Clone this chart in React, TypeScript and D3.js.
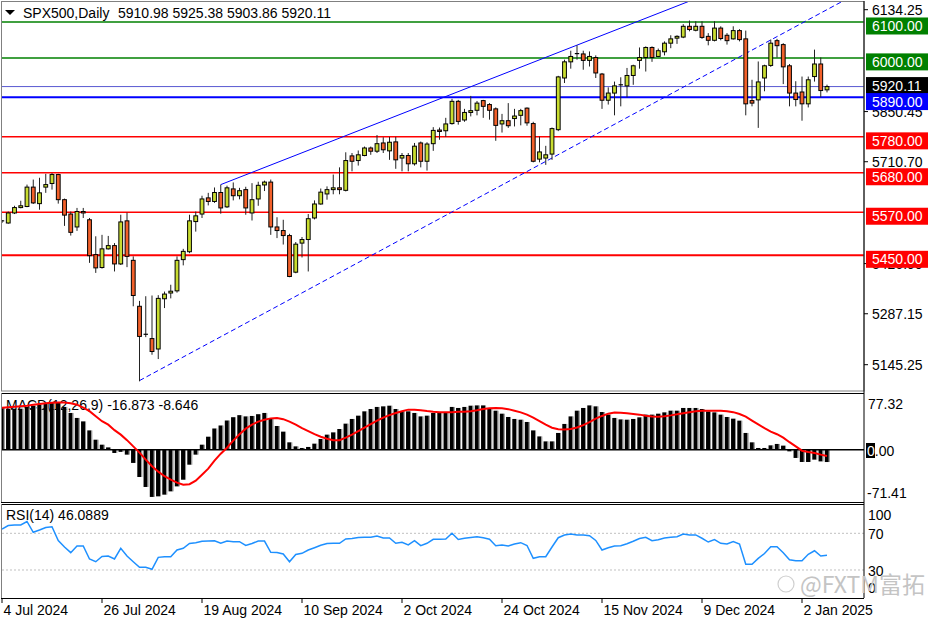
import React from 'react';
import * as d3 from 'd3';

// daily OHLC, SPX500 CFD, 4 Jul 2024 .. 8 Jan 2025
const opens = [
  5544, 5540, 5568, 5583, 5586, 5640, 5594, 5640, 5650, 5675,
  5605, 5565, 5529, 5572, 5549, 5452, 5416, 5468, 5477, 5426,
  5546, 5436, 5308, 5230, 5218, 5189, 5329, 5345, 5351, 5438,
  5460, 5544, 5565, 5610, 5600, 5625, 5585, 5635, 5616, 5633,
  5568, 5607, 5646, 5654, 5529, 5519, 5505, 5403, 5484, 5494,
  5554, 5593, 5621, 5633, 5638, 5631, 5727, 5714, 5728, 5749,
  5740, 5763, 5741, 5766, 5721, 5728, 5705, 5763, 5712, 5761,
  5799, 5797, 5817, 5879, 5827, 5848, 5854, 5881, 5870, 5858,
  5816, 5825, 5831, 5840, 5860, 5817, 5718, 5721, 5732, 5800,
  5944, 5989, 6011, 6011, 5993, 6001, 5955, 5882, 5902, 5922,
  5922, 5951, 5993, 6001, 6029, 6004, 6017, 6041, 6055, 6058,
  6088, 6077, 6088, 6060, 6049, 6083, 6063, 6053, 6076, 6053,
  5881, 5883, 5944, 5979, 6048, 6037, 5978, 5902, 5905, 5872,
  5948, 5983, 5910.98,
];
const highs = [
  5548, 5572, 5588, 5602, 5647, 5661, 5666, 5677, 5679, 5677,
  5608, 5572, 5582, 5582, 5554, 5503, 5507, 5504, 5484, 5563,
  5569, 5447, 5323, 5336, 5338, 5339, 5349, 5368, 5447, 5468,
  5563, 5572, 5616, 5624, 5639, 5647, 5644, 5653, 5638, 5641,
  5651, 5655, 5658, 5661, 5556, 5549, 5510, 5487, 5501, 5565,
  5603, 5636, 5642, 5675, 5695, 5737, 5735, 5742, 5753, 5753,
  5785, 5779, 5780, 5780, 5735, 5735, 5763, 5767, 5765, 5807,
  5806, 5833, 5886, 5883, 5858, 5894, 5880, 5883, 5874, 5862,
  5844, 5874, 5858, 5858, 5862, 5822, 5781, 5755, 5806, 5950,
  5995, 6020, 6035, 6020, 6018, 6007, 5958, 5918, 5934, 5946,
  5972, 5981, 6029, 6032, 6032, 6026, 6046, 6063, 6063, 6094,
  6104, 6102, 6102, 6069, 6102, 6088, 6069, 6088, 6080, 6076,
  5939, 5990, 5981, 6051, 6053, 6041, 5983, 5935, 5948, 5948,
  6023, 6001, 5925.38,
];
const lows = [
  5540, 5538, 5565, 5581, 5584, 5593, 5577, 5624, 5633, 5594,
  5532, 5505, 5518, 5554, 5429, 5401, 5413, 5466, 5405, 5423,
  5417, 5308, 5099, 5222, 5173, 5161, 5303, 5330, 5346, 5422,
  5456, 5516, 5554, 5589, 5596, 5566, 5582, 5603, 5606, 5563,
  5547, 5588, 5629, 5507, 5498, 5480, 5389, 5400, 5444, 5405,
  5550, 5591, 5605, 5620, 5620, 5628, 5684, 5700, 5726, 5730,
  5735, 5735, 5716, 5691, 5684, 5684, 5700, 5695, 5686, 5741,
  5772, 5780, 5814, 5814, 5822, 5837, 5840, 5833, 5828, 5769,
  5792, 5805, 5809, 5812, 5811, 5709, 5709, 5702, 5716, 5796,
  5930, 5970, 5995, 5967, 5976, 5944, 5858, 5870, 5840, 5865,
  5890, 5925, 5970, 5962, 5989, 6002, 6007, 6027, 6039, 6055,
  6074, 6074, 6053, 6035, 6046, 6049, 6037, 6051, 6046, 5840,
  5865, 5805, 5907, 5975, 6001, 5927, 5865, 5865, 5825, 5862,
  5934, 5890, 5903.86,
];
const closes = [
  5546, 5568, 5583, 5588, 5640, 5596, 5624, 5647, 5675, 5605,
  5562, 5514, 5572, 5568, 5449, 5415, 5468, 5477, 5426, 5543,
  5447, 5338, 5224, 5228, 5182, 5330, 5342, 5350, 5436, 5461,
  5546, 5560, 5607, 5600, 5625, 5582, 5638, 5616, 5630, 5582,
  5605, 5645, 5654, 5529, 5519, 5505, 5391, 5481, 5494, 5552,
  5593, 5626, 5633, 5638, 5633, 5714, 5712, 5730, 5749, 5740,
  5761, 5744, 5765, 5716, 5728, 5705, 5754, 5712, 5760, 5798,
  5795, 5816, 5879, 5823, 5848, 5853, 5874, 5865, 5854, 5812,
  5825, 5811, 5838, 5853, 5819, 5712, 5738, 5730, 5803, 5947,
  5989, 6004, 6012, 5993, 6004, 5958, 5882, 5902, 5922, 5925,
  5951, 5978, 6001, 6029, 6001, 6020, 6041, 6053, 6060, 6088,
  6079, 6088, 6057, 6049, 6083, 6054, 6048, 6076, 6051, 5872,
  5874, 5933, 5978, 6041, 6034, 5975, 5902, 5884, 5872, 5939,
  5983, 5909, 5920.11,
];

// MACD(12,26,9): main (histogram) and signal
const macdMain = [
  56.9, 55.9, 55.9, 55.9, 58.3, 60.0, 61.4, 62.8, 63.7, 64.5,
  58.3, 50.1, 43.3, 38.6, 26.3, 13.6, 6.8, 3.1, -4.5, -3.0,
  -6.8, -18.1, -37.3, -50.9, -64.5, -63.7, -61.4, -56.9, -50.1, -41.0,
  -20.5, -6.8, 6.8, 17.7, 28.9, 33.0, 39.8, 44.3, 47.1, 45.4,
  46.0, 48.4, 50.1, 42.3, 32.3, 24.6, 10.0, 4.5, 2.3, 3.7,
  8.2, 14.6, 20.5, 23.6, 28.2, 35.5, 41.9, 46.4, 52.3, 55.5,
  58.3, 59.1, 60.0, 55.5, 52.3, 52.3, 50.1, 45.4, 46.4, 50.1,
  50.1, 50.1, 58.3, 56.9, 58.3, 60.0, 60.4, 60.4, 56.9, 53.2,
  49.1, 44.6, 41.9, 40.9, 37.8, 26.3, 18.1, 11.3, 11.3, 22.8,
  35.1, 45.4, 53.2, 56.9, 60.4, 59.1, 51.4, 47.8, 43.3, 41.3,
  40.9, 41.9, 44.1, 47.8, 47.8, 49.1, 50.9, 53.2, 53.2, 56.9,
  56.9, 56.9, 55.5, 52.3, 50.9, 47.8, 44.6, 42.3, 39.6, 22.8,
  10.0, 2.3, 2.3, 5.9, 7.8, 5.5, -2.3, -11.3, -16.8, -16.8,
  -13.6, -16.0, -16.873,
];
const macdSignal = [
  57.3, 58.0, 58.7, 59.4, 60.0, 61.4, 62.4, 63.4, 64.1, 64.5,
  64.5, 63.4, 61.4, 57.3, 52.5, 45.7, 38.9, 34.1, 26.6, 20.5,
  13.0, 4.5, -4.1, -13.6, -22.5, -30.0, -36.2, -40.9, -45.0, -47.8,
  -47.1, -42.3, -34.1, -25.9, -15.0, -5.5, 2.7, 12.3, 21.1, 28.7,
  34.1, 38.2, 40.9, 42.7, 43.3, 41.6, 38.2, 34.1, 29.3, 25.2,
  21.1, 17.7, 15.0, 13.0, 13.0, 16.4, 20.5, 25.2, 30.0, 34.8,
  39.6, 43.7, 47.1, 50.1, 52.5, 54.6, 54.6, 53.9, 52.8, 51.9,
  51.2, 50.9, 51.2, 51.6, 51.9, 52.5, 53.9, 55.5, 56.6, 56.9,
  56.4, 55.3, 53.2, 50.9, 47.8, 43.7, 38.9, 34.1, 30.0, 28.0,
  27.6, 28.2, 30.3, 33.4, 37.5, 42.3, 46.0, 49.1, 50.8, 50.5,
  49.8, 48.8, 47.8, 46.4, 45.3, 45.0, 45.7, 46.8, 48.2, 49.8,
  51.2, 52.3, 53.0, 53.2, 53.2, 53.0, 52.4, 51.2, 48.7, 45.0,
  39.6, 34.4, 29.3, 24.6, 21.1, 16.4, 10.2, 4.5, -1.4, -3.1,
  -4.5, -6.8, -8.646,
];

// RSI(14)
const rsiValues = [
  74.7, 78.5, 79.1, 79.1, 82.9, 71.1, 73.6, 76.3, 77.2, 62.2,
  55.1, 48.9, 56.2, 56.2, 42.0, 39.0, 44.7, 45.3, 42.0, 53.7,
  45.3, 39.0, 32.9, 32.9, 30.8, 43.8, 44.5, 44.5, 51.8, 53.7,
  58.9, 59.8, 61.3, 61.6, 61.9, 59.1, 61.6, 60.9, 60.9, 56.7,
  58.9, 61.6, 61.6, 49.3, 49.1, 47.4, 39.0, 46.9, 48.2, 51.8,
  54.3, 56.9, 58.9, 59.1, 59.1, 63.8, 64.3, 65.4, 65.6, 65.6,
  67.1, 64.9, 64.9, 59.1, 60.2, 57.3, 61.9, 56.5, 59.1, 63.5,
  63.5, 63.8, 70.0, 63.2, 64.6, 65.4, 66.3, 65.2, 63.5, 56.5,
  57.3, 56.2, 58.3, 59.8, 56.7, 42.7, 44.5, 44.5, 55.1, 65.2,
  68.2, 69.2, 68.2, 68.2, 67.4, 62.2, 51.8, 54.3, 56.2, 56.5,
  58.7, 61.3, 64.3, 65.6, 61.9, 63.0, 64.9, 65.6, 66.3, 69.2,
  68.2, 68.2, 64.6, 60.5, 63.2, 59.1, 58.3, 60.9, 58.3, 36.2,
  36.2, 42.7, 48.0, 55.4, 55.4, 48.9, 41.2, 40.1, 40.1, 47.1,
  51.0, 45.3, 46.0889,
];

const tickBars = [0, 16, 32, 48, 64, 80, 96, 112, 128];
const tickLabels = ['4 Jul 2024', '26 Jul 2024', '19 Aug 2024', '10 Sep 2024', '2 Oct 2024',
  '24 Oct 2024', '15 Nov 2024', '9 Dec 2024', '2 Jan 2025'];

// price scale labels (the ones fully hidden under level boxes are left out)
const priceTicks = [6134.25, 5850.45, 5710.70, 5426.90, 5287.15, 5145.25];
const greenLevels = [6100, 6000];
const redLevels = [5780, 5680, 5570, 5450];
const blueLevel = 5890;
const lastPrice = 5920.11;

// channel anchors: [bar index, price]
const upperTrend = [[35, 5647], [99.7, 6088]];
const lowerTrend = [[22, 5101], [98, 5815]];

const FONT = "'Liberation Sans', Arial, sans-serif";
const BULL = '#c8dc30';
const BEAR = '#f2602a';

const W = 936;
const H = 624;
const left = 2;
const right = 864;
const main = { top: 2, bottom: 391 };
const macdP = { top: 393, bottom: 502 };
const rsiP = { top: 504, bottom: 598 };

const x = d3.scaleLinear().domain([0, 132]).range([2, 827]);
const yPrice = d3.scaleLinear().domain([5145.25, 6134.25]).range([364.7, 9.7]);
const yMacd = d3.scaleLinear().domain([-71.41, 77.32]).range([502, 393]);
const yRsi = d3.scaleLinear().domain([0, 100]).range([597.5, 505.8]);

const ray = (a: number[], b: number[], toBar: number) => {
  const slope = (b[1] - a[1]) / (b[0] - a[0]);
  return [a, [toBar, a[1] + slope * (toBar - a[0])]];
};

const LevelBox = ({ y, fill, label }: { y: number; fill: string; label: string }) => (
  <g>
    <rect x={866} y={y} width={62} height={17} fill={fill} />
    <text x={872} y={y + 13.5} fill="#fff" fontSize={14} fontFamily={FONT}>{label}</text>
  </g>
);

export default function App() {
  const signalLine = d3.line<number>().x((_, i) => x(i)).y(v => yMacd(v));
  const rsiLine = d3.line<number>().x((_, i) => x(i)).y(v => yRsi(v));
  const trendLine = d3.line<number[]>().x(d => x(d[0])).y(d => yPrice(d[1]));

  const up = ray(upperTrend[0], upperTrend[1], 140);
  const lo = ray(lowerTrend[0], lowerTrend[1], 140);

  const blueTop = yPrice(blueLevel) - 4.3;

  return (
    <div style={{ position: 'absolute', left: 0, top: 0 }}>
      <svg width={W} height={H} style={{ display: 'block', background: '#fff' }} fontFamily={FONT}>
        <defs>
          <clipPath id="clipMain"><rect x={left} y={main.top} width={right - left} height={main.bottom - main.top} /></clipPath>
          <clipPath id="clipMacd"><rect x={left} y={macdP.top} width={right - left} height={macdP.bottom - macdP.top} /></clipPath>
          <clipPath id="clipRsi"><rect x={left} y={rsiP.top} width={right - left} height={rsiP.bottom - rsiP.top} /></clipPath>
        </defs>

        {/* ---- main panel ---- */}
        <g clipPath="url(#clipMain)">
          {redLevels.map((lv, i) => (
            <line key={lv} x1={left} x2={right} y1={yPrice(lv)} y2={yPrice(lv)}
              stroke="#ff0000" strokeWidth={i === redLevels.length - 1 ? 2 : 1.5} />
          ))}
          {greenLevels.map(lv => (
            <line key={lv} x1={left} x2={right} y1={yPrice(lv)} y2={yPrice(lv)} stroke="#008000" strokeWidth={1.5} />
          ))}
          <line x1={left} x2={right} y1={yPrice(blueLevel)} y2={yPrice(blueLevel)} stroke="#0000ff" strokeWidth={2} />
          <line x1={left} x2={right} y1={yPrice(lastPrice)} y2={yPrice(lastPrice)} stroke="#5a5ad2" strokeWidth={1} />

          <path d={trendLine(up) || ''} fill="none" stroke="#0000ff" strokeWidth={1} />
          <path d={trendLine(lo) || ''} fill="none" stroke="#0000ff" strokeWidth={1} strokeDasharray="5,3" />

          {closes.map((c, i) => {
            const o = opens[i];
            const cx = x(i);
            const top = yPrice(Math.max(o, c));
            const bot = yPrice(Math.min(o, c));
            const bull = c >= o;
            return (
              <g key={i}>
                <line x1={cx} x2={cx} y1={yPrice(highs[i])} y2={yPrice(lows[i])} stroke="#222" strokeWidth={1} />
                {bot - top < 1.2 ? (
                  <line x1={cx - 2.2} x2={cx + 2.2} y1={top} y2={top} stroke="#000" strokeWidth={1.2} />
                ) : (
                  <rect x={cx - 1.9} y={top} width={3.8} height={bot - top} fill={bull ? BULL : BEAR} stroke="#000" strokeWidth={1} />
                )}
              </g>
            );
          })}
        </g>

        {/* header */}
        <path d="M5,10 L15,10 L10,15 Z" fill="#000" />
        <text x={23} y={18} fontSize={14} fill="#000">SPX500,Daily</text>
        <text x={118} y={18} fontSize={14} fill="#000">5910.98 5925.38 5903.86 5920.11</text>

        {/* ---- MACD panel ---- */}
        <text x={6} y={410} fontSize={14} fill="#000">MACD(12,26,9) -16.873 -8.646</text>
        <g clipPath="url(#clipMacd)">
          {macdMain.map((v, i) => {
            const y0 = yMacd(0);
            const y1 = yMacd(v);
            const cx = x(i);
            return (
              <g key={i}>
                <rect x={cx - 2.2} y={Math.min(y0, y1)} width={4} height={Math.abs(y1 - y0)} fill="#000" />
                <rect x={cx + 1.8} y={Math.min(y0, y1)} width={1} height={Math.abs(y1 - y0)} fill="#8c8c8c" />
              </g>
            );
          })}
          <line x1={left} x2={right} y1={yMacd(0)} y2={yMacd(0)} stroke="#000" strokeWidth={1.5} />
          <path d={signalLine(macdSignal) || ''} fill="none" stroke="#ff0000" strokeWidth={2} />
        </g>

        {/* ---- RSI panel ---- */}
        <g clipPath="url(#clipRsi)">
          {[70, 30].map(lv => (
            <line key={lv} x1={left} x2={right} y1={yRsi(lv)} y2={yRsi(lv)} stroke="#c0c0c0" strokeWidth={1} strokeDasharray="2,2" />
          ))}
          <path d={rsiLine(rsiValues) || ''} fill="none" stroke="#1e90ff" strokeWidth={1.5} />
        </g>
        <text x={6} y={520} fontSize={14} fill="#000">RSI(14) 46.0889</text>

        {/* panel frames */}
        <rect x={1.5} y={1.5} width={right - 1.5} height={main.bottom - 1.5} fill="none" stroke="#808080" />
        <line x1={right} x2={right} y1={1} y2={rsiP.bottom} stroke="#000" />
        <line x1={1} x2={right} y1={macdP.top + 0.5} y2={macdP.top + 0.5} stroke="#000" />
        <line x1={1.5} x2={1.5} y1={macdP.top} y2={macdP.bottom} stroke="#808080" />
        <line x1={1} x2={right} y1={macdP.bottom + 0.5} y2={macdP.bottom + 0.5} stroke="#000" />
        <line x1={1} x2={right} y1={rsiP.top + 0.5} y2={rsiP.top + 0.5} stroke="#000" />
        <line x1={1.5} x2={1.5} y1={rsiP.top} y2={rsiP.bottom} stroke="#808080" />
        <line x1={1} x2={right} y1={rsiP.bottom + 0.5} y2={rsiP.bottom + 0.5} stroke="#000" />

        {/* price axis */}
        {priceTicks.map(t => (
          <g key={t}>
            <line x1={right} x2={right + 4} y1={yPrice(t)} y2={yPrice(t)} stroke="#000" />
            <text x={872} y={yPrice(t) + 5} fontSize={14} fill="#000">{t.toFixed(2)}</text>
          </g>
        ))}
        {greenLevels.map(lv => (
          <LevelBox key={lv} y={yPrice(lv) - 4.5} fill="#008000" label={lv.toFixed(2)} />
        ))}
        {redLevels.map(lv => (
          <LevelBox key={lv} y={yPrice(lv) - 4.5} fill="#ff0000" label={lv.toFixed(2)} />
        ))}
        <LevelBox y={blueTop - 16} fill="#000" label={lastPrice.toFixed(2)} />
        <LevelBox y={blueTop} fill="#0000ff" label={blueLevel.toFixed(2)} />

        {/* MACD axis */}
        <text x={868} y={409} fontSize={14} fill="#000">77.32</text>
        <rect x={866} y={443} width={9} height={15} fill="#000" />
        <text x={867} y={456} fontSize={14} fill="#000"><tspan fill="#fff">0</tspan>.00</text>
        <text x={867} y={498} fontSize={14} fill="#000">-71.41</text>

        {/* RSI axis */}
        <text x={868} y={520} fontSize={14} fill="#000">100</text>
        <text x={868} y={539} fontSize={14} fill="#000">70</text>
        <text x={868} y={576} fontSize={14} fill="#000">30</text>
        <text x={868} y={593} fontSize={14} fill="#000">0</text>

        {/* time axis */}
        {tickBars.map((b, i) => (
          <g key={b}>
            <line x1={x(b)} x2={x(b)} y1={rsiP.bottom} y2={rsiP.bottom + 5} stroke="#000" />
            <text x={x(b) + 1.5} y={615} fontSize={14} fill="#000">{tickLabels[i]}</text>
          </g>
        ))}

        {/* watermark */}
        <circle cx={786} cy={584} r={8} fill="none" stroke="#cfcfcf" strokeWidth={1.2} />
        <text x={800} y={593} fontSize={23} fill="#c4c4c4" fontFamily="'Noto Sans CJK SC', 'Noto Sans', sans-serif">@FXTM富拓</text>
      </svg>
    </div>
  );
}
